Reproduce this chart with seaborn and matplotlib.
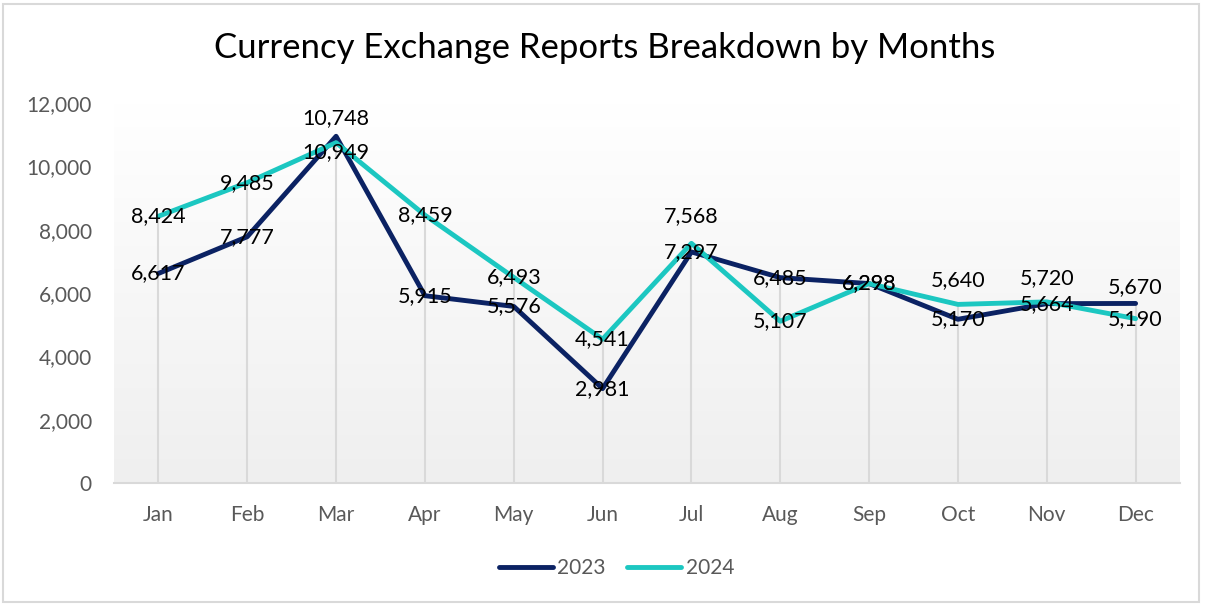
"""
Currency exchange reports by month, 2023 vs 2024.
"""
import numpy as np
import pandas as pd
import matplotlib
matplotlib.use("Agg")
import matplotlib.pyplot as plt
from matplotlib.colors import LinearSegmentedColormap
from matplotlib.patches import Rectangle
import seaborn as sns

sns.set_style("white")
plt.rcParams['font.family'] = ['Lato', 'DejaVu Sans']

# Data
months = ['Jan', 'Feb', 'Mar', 'Apr', 'May', 'Jun', 'Jul', 'Aug', 'Sep', 'Oct', 'Nov', 'Dec']
values_2023 = [6617, 7777, 10949, 5915, 5576, 2981, 7297, 6485, 6298, 5170, 5664, 5670]
values_2024 = [8424, 9485, 10748, 8459, 6493, 4541, 7568, 5107, 6298, 5640, 5720, 5190]
y_ticks = [0, 2000, 4000, 6000, 8000, 10000, 12000]

# label nudges (pixels, up is positive) to mimic the hand-moved labels
offsets_2023 = [0, 0, -16, 0, 0, 0, 0, 0, 0, 0, 0, 16]
offsets_2024 = [0, 0, 25, 0, 0, 0, 27, 0, 0, 24, 24, 0]

colors = {'2023': '#0b2263', '2024': '#1cc7c1'}

df = pd.DataFrame({
    'month': months * 2,
    'value': values_2023 + values_2024,
    'year': ['2023'] * 12 + ['2024'] * 12,
})

fig = plt.figure(figsize=(12.05, 6.06), dpi=100)
ax = fig.add_axes([114 / 1205, 1 - 483 / 606, (1180 - 114) / 1205, (483 - 103) / 606])

# soft vertical gradient behind the plot
grad = LinearSegmentedColormap.from_list('bg', ['#ffffff', '#efefef'])
ax.imshow(np.linspace(0, 1, 256).reshape(-1, 1), cmap=grad, aspect='auto',
          extent=(-0.5, 11.5, 0, 12000), origin='upper', zorder=0)

# drop lines from the higher point of each month
tops = np.maximum(values_2023, values_2024)
ax.vlines(np.arange(len(months)), 0, tops, color='#d9d9d9', lw=1.5, zorder=1)

sns.lineplot(data=df, x='month', y='value', hue='year', palette=colors,
             linewidth=3.5, sort=False, ax=ax, zorder=3, legend=True)

for vals, offs in [(values_2023, offsets_2023), (values_2024, offsets_2024)]:
    for i, (v, o) in enumerate(zip(vals, offs)):
        ax.annotate(f'{v:,}', (i, v), xytext=(0, o), textcoords='offset pixels',
                    ha='center', va='center', fontsize=15.5, color='#000000', zorder=4)

ax.set_xlim(-0.5, 11.5)
ax.set_ylim(0, 12000)
ax.set_yticks(y_ticks)
ax.set_yticklabels([f'{t:,}' for t in y_ticks])
ax.set_xlabel('')
ax.set_ylabel('')
ax.tick_params(axis='both', length=0, labelsize=15, colors='#595959')
ax.tick_params(axis='x', pad=16)
ax.tick_params(axis='y', pad=16)
for side in ['top', 'right', 'left']:
    ax.spines[side].set_visible(False)
ax.spines['bottom'].set_color('#d9d9d9')
ax.spines['bottom'].set_linewidth(1.5)

handles, labels = ax.get_legend_handles_labels()
ax.get_legend().remove()
fig.legend(handles, labels, loc='center', bbox_to_anchor=(0.5115, 1 - 568 / 606),
           ncol=2, frameon=False, fontsize=15, labelcolor='#595959',
           handlelength=2.6, columnspacing=1.05, handletextpad=0.2)

fig.text(0.502, 1 - 48 / 606, 'Currency Exchange Reports Breakdown by Months',
         ha='center', va='center', fontsize=25, color='#000000')

fig.patches.append(Rectangle((3 / 1205, 4 / 606), 1196 / 1205, 598 / 606,
                             transform=fig.transFigure, fill=False,
                             ec='#d9d9d9', lw=1.5))

fig.savefig('out.png', dpi=100)
